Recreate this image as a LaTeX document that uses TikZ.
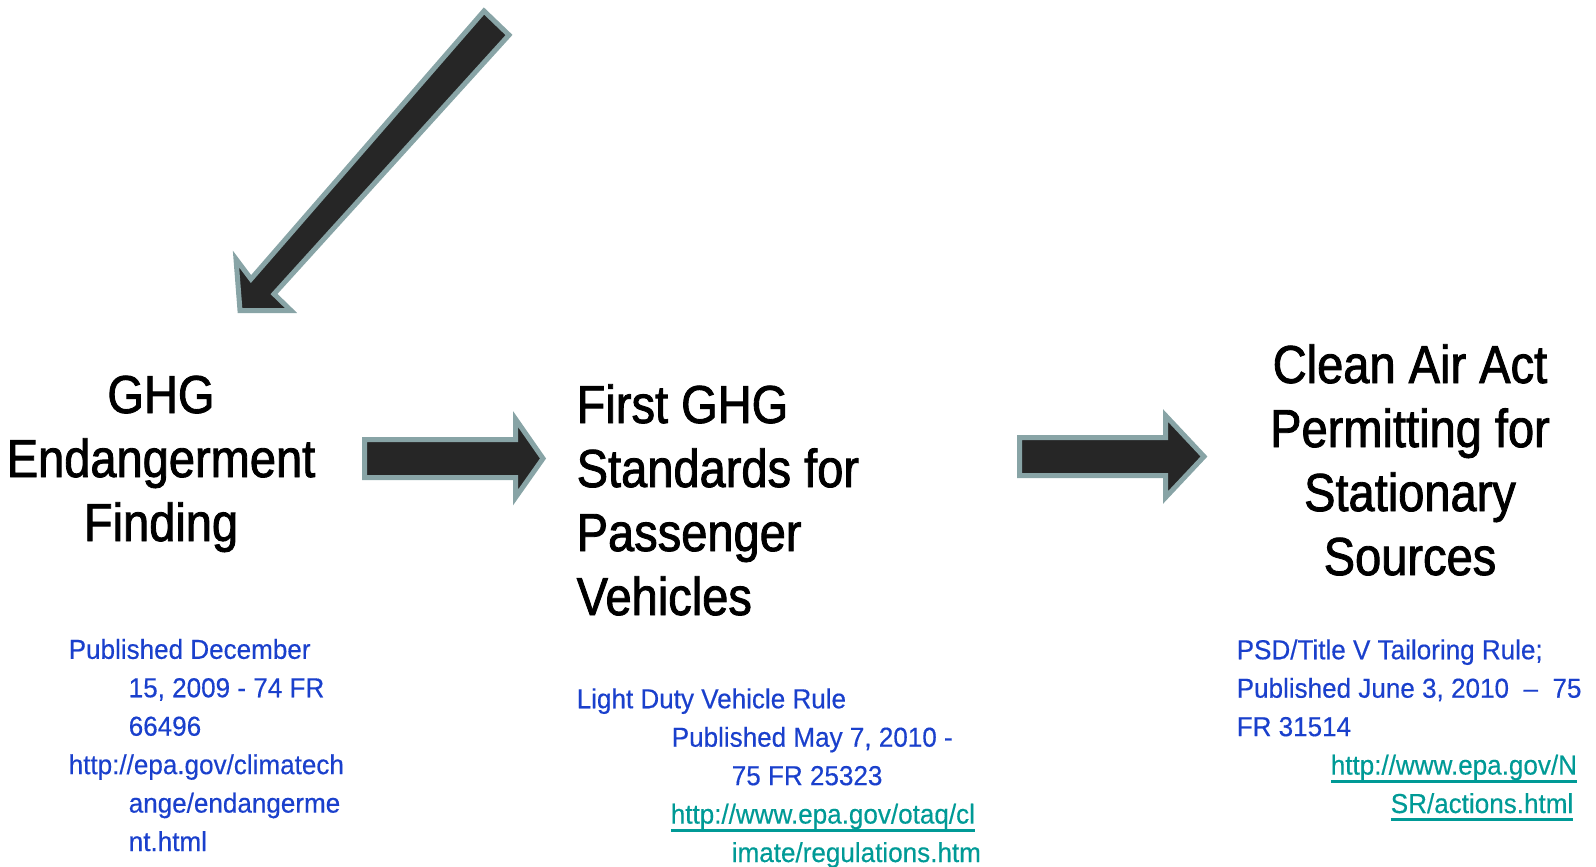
\documentclass[tikz,border=0pt]{standalone}
\usepackage{fontspec}
\setmainfont{Liberation Sans}[FakeStretch=0.88]
\newfontfamily\titlefont{Liberation Sans}[FakeStretch=0.88, FakeBold=1.6]
\newfontfamily\notefont{Liberation Sans}[FakeStretch=0.95, FakeBold=0.4]
\usepackage{xcolor}
\definecolor{arrfill}{HTML}{262626}
\definecolor{arredge}{HTML}{88A4A6}
\definecolor{noteblue}{HTML}{1A40CC}
\definecolor{linkteal}{HTML}{009A96}
\newcommand{\weblink}[1]{{\color{linkteal}\setbox0\hbox{#1}%
  \rlap{\rule[-2.3pt]{\wd0}{0.75pt}}\box0}}

\begin{document}
\begin{tikzpicture}[
  x=0.01cm, y=-0.01cm,
  title/.style={inner sep=0pt, align=center, anchor=base,
                font=\titlefont\fontsize{15.2}{18.2}\selectfont},
  note/.style={inner sep=0pt, align=left, anchor=base west,
               text=noteblue, font=\notefont\fontsize{7.8}{10.93}\selectfont},
  blockarrow/.style={fill=arrfill, draw=arredge, line width=0.05cm}
]
  \useasboundingbox (0,0) rectangle (1596,866);

  % block arrows
  \draw[blockarrow] (484,11) -- (509,35) -- (274,294) -- (291,310.5)
    -- (240,310.5) -- (236,259) -- (251,279) -- cycle;
  \draw[blockarrow] (364.5,439.5) -- (515.5,439.5) -- (515.5,419)
    -- (543,458.5) -- (515.5,497.5) -- (515.5,477.5) -- (364.5,477.5) -- cycle;
  \draw[blockarrow] (1019.5,437.5) -- (1165.5,437.5) -- (1165.5,415.5)
    -- (1204,456.5) -- (1165.5,497.5) -- (1165.5,475.5) -- (1019.5,475.5) -- cycle;

  % titles (placed by the baseline of their last line)
  \node[title] (endanger) at (161,541)
    {GHG\\Endangerment\\Finding};
  \node[title, align=left, anchor=base west] (vehicles) at (576,615)
    {First GHG\\Standards for\\Passenger\\Vehicles};
  \node[title] (caa) at (1410,575)
    {Clean Air Act\\Permitting for\\Stationary\\Sources};

  % notes
  \node[note] (endangernote) at (68,851)
    {Published December\\
     \hspace*{0.6cm}15, 2009 - 74 FR\\
     \hspace*{0.6cm}66496\\
     http://epa.gov/climatech\\
     \hspace*{0.6cm}ange/endangerme\\
     \hspace*{0.6cm}nt.html};
  \node[note] (vehiclenote) at (576,862)
    {Light Duty Vehicle Rule\\
     \hspace*{0.95cm}Published May 7, 2010 -\\
     \hspace*{1.55cm}75 FR 25323\\
     \hspace*{0.94cm}\weblink{http://www.epa.gov/otaq/cl}\\
     \hspace*{1.55cm}\weblink{imate/regulations.htm}};
  \node[note] (caanote) at (1236,813)
    {PSD/Title V Tailoring Rule;\\
     Published June 3, 2010\ \ –\ \ 75\\
     FR 31514\\
     \hspace*{0.94cm}\weblink{http://www.epa.gov/N}\\
     \hspace*{1.54cm}\weblink{SR/actions.html}};
\end{tikzpicture}
\end{document}
